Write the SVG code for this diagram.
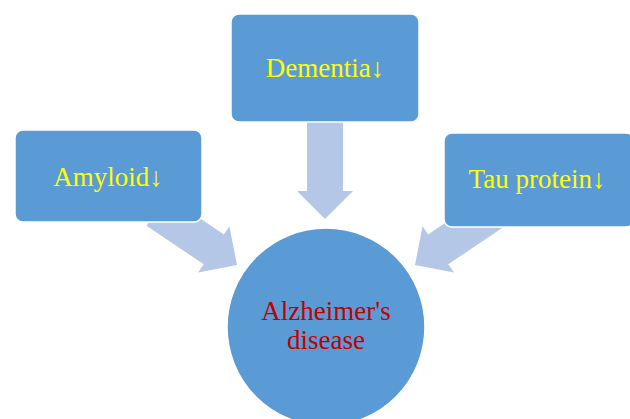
<svg xmlns="http://www.w3.org/2000/svg" width="630" height="419" viewBox="0 0 630 419">
<style>
.box{fill:#5B9BD5;stroke:#FFFFFF;stroke-width:1.5}
.arr{fill:#B4C7E7}
.lbl{font-family:"Liberation Serif","Times New Roman",serif;font-size:27px;fill:#FFFF00;text-anchor:middle}
.ad{font-family:"Liberation Serif","Times New Roman",serif;font-size:27px;fill:#C00000;text-anchor:middle}
</style>
<defs>
<polygon id="bigarrow" points="0,-18 69,-18 69,-28 97,0 69,28 69,18 0,18"/>
</defs>
<rect width="630" height="419" fill="#FFFFFF"/>
<g id="connectors">
<use href="#bigarrow" class="arr" transform="translate(325,219) rotate(90) translate(-97,0)"/>
<use href="#bigarrow" class="arr" transform="translate(237,265) rotate(34) translate(-97,0)"/>
<use href="#bigarrow" class="arr" transform="translate(415,265) rotate(146) translate(-97,0)"/>
</g>
<g id="amyloid">
<rect class="box" x="15" y="130" width="187" height="92" rx="8"/>
<text class="lbl" x="108" y="186">Amyloid↓</text>
</g>
<g id="dementia">
<rect class="box" x="231" y="14" width="188" height="108" rx="8"/>
<text class="lbl" x="325" y="77">Dementia↓</text>
</g>
<g id="tau">
<rect class="box" x="444" y="133" width="190" height="94" rx="8"/>
<text class="lbl" x="537" y="188">Tau protein↓</text>
</g>
<g id="alzheimers">
<circle cx="326" cy="327" r="99" fill="#5B9BD5" stroke="#FFFFFF" stroke-width="1.5"/>
<text class="ad" x="326" y="320">Alzheimer's</text>
<text class="ad" x="326" y="349">disease</text>
</g>
</svg>
